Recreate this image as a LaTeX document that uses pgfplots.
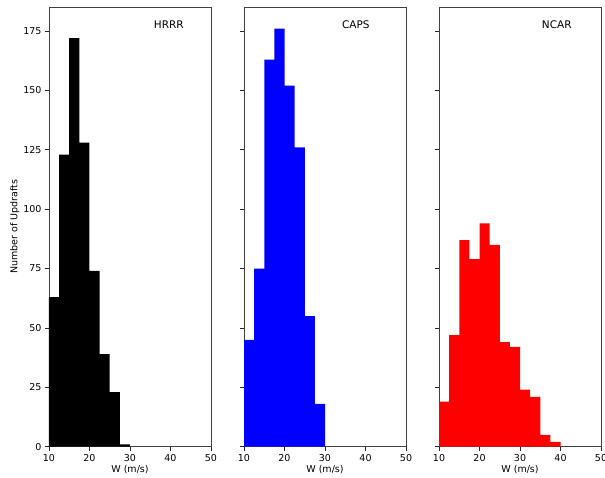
\documentclass[border=0pt]{standalone}
\usepackage{fontspec}
\setmainfont{DejaVu Sans}
\usepackage{pgfplots}
\pgfplotsset{compat=1.18}
\pgfplotsset{
  panel/.style={
    scale only axis, width=162pt, height=439.4pt,
    xmin=10, xmax=50, ymin=0, ymax=185,
    xtick={10,20,30,40,50}, ytick={0,25,50,75,100,125,150,175},
    tick align=outside, tick pos=left,
    major tick length=4pt,
    axis line style={black!75, line width=0.8pt},
    every tick/.style={black!85, line width=0.8pt},
    /pgf/number format/assume math mode=true,
    tick label style={font=\fontsize{9.5}{11}\selectfont},
    label style={font=\fontsize{9.5}{11}\selectfont},
    xlabel={W (m/s)},
    xlabel style={yshift=3pt},
    clip=false,
  }
}
\begin{document}
\begin{tikzpicture}
\useasboundingbox (-49pt,-31.3pt) rectangle (556pt,446.7pt);
% HRRR
\begin{axis}[panel, at={(0pt,0pt)}, anchor=south west,
  ylabel={Number of Updrafts}, ylabel style={yshift=-3pt}]
\addplot[ybar interval, fill=black, draw=none] coordinates {
(10,63) (12.5,123) (15,172) (17.5,128) (20,74) (22.5,39) (25,23) (27.5,1) (30,0)};
\node[font=\fontsize{10.5}{12}\selectfont] at (rel axis cs:0.74,0.961) {HRRR};
\end{axis}
% CAPS
\begin{axis}[panel, at={(195pt,0pt)}, anchor=south west, yticklabels={}]
\addplot[ybar interval, fill=blue, draw=none] coordinates {
(10,45) (12.5,75) (15,163) (17.5,176) (20,152) (22.5,126) (25,55) (27.5,18) (30,0)};
\node[font=\fontsize{10.5}{12}\selectfont] at (rel axis cs:0.69,0.961) {CAPS};
\end{axis}
% NCAR
\begin{axis}[panel, at={(390pt,0pt)}, anchor=south west, yticklabels={}]
\addplot[ybar interval, fill=red, draw=none] coordinates {
(10,19) (12.5,47) (15,87) (17.5,79) (20,94) (22.5,85) (25,44) (27.5,42) (30,24) (32.5,21) (35,5) (37.5,2) (40,0)};
\node[font=\fontsize{10.5}{12}\selectfont] at (rel axis cs:0.727,0.961) {NCAR};
\end{axis}
\end{tikzpicture}
\end{document}
